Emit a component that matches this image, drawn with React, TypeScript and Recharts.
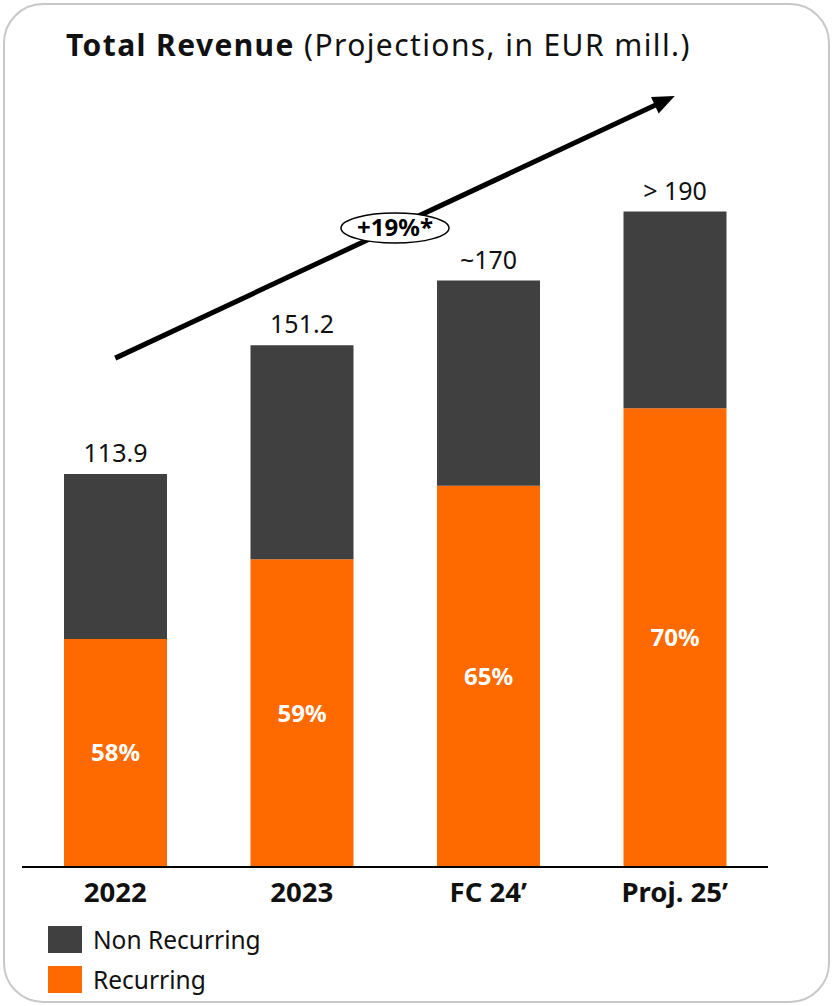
import { BarChart, Bar, XAxis, YAxis, LabelList, Legend, ReferenceLine } from "recharts";

const categories = ["2022", "2023", "FC 24’", "Proj. 25’"];
const recurring = [66.1, 89.2, 110.5, 133.0];
const nonRecurring = [47.8, 62.0, 59.5, 57.0];
const totalLabels = ["113.9", "151.2", "~170", "> 190"];
const shareLabels = ["58%", "59%", "65%", "70%"];
const legendOrder = ["Non Recurring", "Recurring"];
const growthLabel = "+19%*";
const arrowFrom = 147.5;
const arrowTo = 223.5;

const ORANGE = "#ff6a00";
const DARK = "#404040";
const FONT = "'Noto Sans', sans-serif";

const data = categories.map((name, i) => ({
  name,
  recurring: recurring[i],
  nonRecurring: nonRecurring[i],
  totalLabel: totalLabels[i],
  shareLabel: shareLabels[i],
}));

const GrowthArrow = (props: any) => {
  const { x1, y1, x2, y2 } = props;
  const ang = Math.atan2(y2 - y1, x2 - x1);
  const head = 22;
  const half = 9;
  const bx = x2 - head * Math.cos(ang);
  const by = y2 - head * Math.sin(ang);
  const px = -Math.sin(ang) * half;
  const py = Math.cos(ang) * half;
  const mx = x1 + (x2 - x1) * 0.5;
  const my = y1 + (y2 - y1) * 0.5 + 1;
  return (
    <g>
      <line x1={x1} y1={y1} x2={bx + 2 * Math.cos(ang)} y2={by + 2 * Math.sin(ang)} stroke="#000" strokeWidth={5} />
      <polygon points={`${x2},${y2} ${bx + px},${by + py} ${bx - px},${by - py}`} fill="#000" />
      <ellipse cx={mx} cy={my} rx={54} ry={15} fill="#fff" stroke="#000" strokeWidth={1.5} />
      <text x={mx} y={my + 8} textAnchor="middle" fontFamily={FONT} fontWeight={700} fontSize={24} fill="#000">
        {growthLabel}
      </text>
    </g>
  );
};

const LegendBox = (props: any) => {
  const items = [...(props.payload || [])].sort(
    (a: any, b: any) => legendOrder.indexOf(a.value) - legendOrder.indexOf(b.value)
  );
  return (
    <div style={{ fontFamily: FONT }}>
      {items.map((it: any) => (
        <div key={it.value} style={{ display: "flex", alignItems: "center", height: 27, marginBottom: 13 }}>
          <div style={{ width: 34, height: 27, background: it.color, marginRight: 11 }} />
          <span style={{ fontSize: 24.5, color: "#111" }}>{it.value}</span>
        </div>
      ))}
    </div>
  );
};

export default function App() {
  return (
    <div style={{ position: "absolute", left: 0, top: 0, width: 833, height: 1006, background: "#fff" }}>
      <div
        style={{
          position: "absolute",
          left: 3,
          top: 3,
          width: 827,
          height: 1000,
          boxSizing: "border-box",
          border: "2.5px solid #c8c8c8",
          borderRadius: 40,
        }}
      />
      <div
        style={{
          position: "absolute",
          left: 66,
          top: 24,
          fontFamily: FONT,
          fontSize: 30,
          letterSpacing: 1.4,
          color: "#111",
          whiteSpace: "nowrap",
        }}
      >
        <span style={{ fontWeight: 700 }}>Total Revenue</span> (Projections, in EUR mill.)
      </div>
      <div style={{ position: "absolute", left: 0, top: 0 }}>
        <BarChart
          width={833}
          height={1006}
          data={data}
          margin={{ top: 39, right: 65, bottom: 109, left: 22 }}
          barSize={103}
        >
          <XAxis
            dataKey="name"
            height={30}
            tickLine={false}
            tickMargin={9}
            axisLine={{ stroke: "#000", strokeWidth: 2 }}
            tick={{ fill: "#111", fontSize: 27.5, fontWeight: 700, fontFamily: FONT }}
          />
          <YAxis hide domain={[0, 240]} />
          <Legend
            verticalAlign="bottom"
            align="left"
            content={<LegendBox />}
            wrapperStyle={{ top: 926, left: 48, width: 320, height: 0, overflow: "visible" }}
          />
          <Bar dataKey="recurring" name="Recurring" stackId="a" fill={ORANGE} isAnimationActive={false}>
            <LabelList
              dataKey="shareLabel"
              position="center"
              fill="#fff"
              fontSize={24}
              fontWeight={700}
              fontFamily={FONT}
            />
          </Bar>
          <Bar dataKey="nonRecurring" name="Non Recurring" stackId="a" fill={DARK} isAnimationActive={false}>
            <LabelList
              dataKey="totalLabel"
              position="top"
              offset={12}
              fill="#111"
              fontSize={25}
              fontFamily={FONT}
            />
          </Bar>
          <ReferenceLine
            segment={[
              { x: categories[0], y: arrowFrom },
              { x: categories[3], y: arrowTo },
            ]}
            ifOverflow="visible"
            shape={(p: any) => <GrowthArrow {...p} />}
          />
        </BarChart>
      </div>
    </div>
  );
}
